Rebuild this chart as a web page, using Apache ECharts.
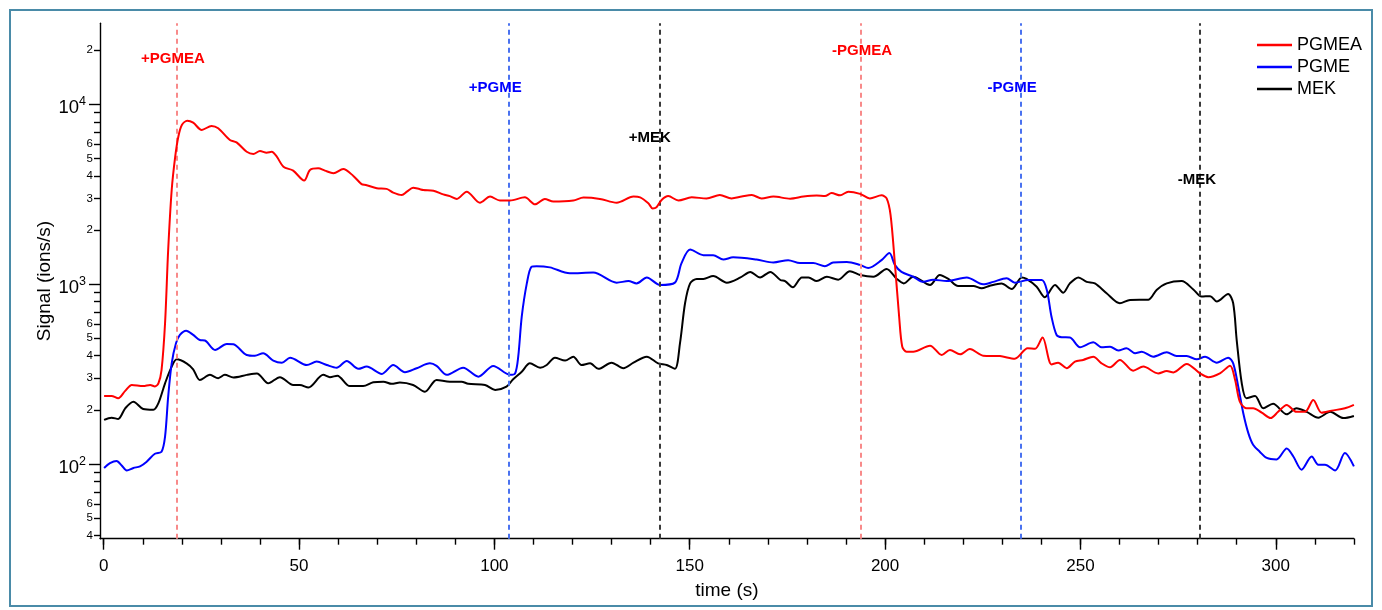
<!DOCTYPE html>
<html><head><meta charset="utf-8">
<script src="https://cdn.jsdelivr.net/npm/echarts@6/dist/echarts.min.js"></script>
<style>html,body{margin:0;padding:0;background:#fff}#c{width:1382px;height:610px}</style>
</head><body><div id="c"></div>
<script>
// ---- data (time s, signal ions/s) ----
const pgmea = [[0.1,239],[2.0,239],[3.7,232],[5.5,255],[7.2,275],[10.1,271],[11.9,275],[13.1,270],[14.0,281],[14.8,333],[15.7,606],[16.5,1550],[17.4,3340],[18.3,5120],[19.1,6610],[20.0,7680],[21.4,8110],[22.9,7910],[25.1,7210],[27.6,7590],[29.3,7370],[32.3,6340],[34.0,6150],[36.6,5450],[38.3,5300],[40.0,5500],[41.7,5390],[43.0,5450],[44.3,5120],[46.0,4500],[48.5,4280],[51.3,3770],[52.8,4320],[54.9,4410],[56.6,4280],[58.8,4140],[61.3,4370],[63.9,4000],[66.0,3600],[67.1,3560],[69.9,3420],[72.4,3390],[74.1,3230],[76.3,3130],[77.6,3270],[79.2,3440],[80.8,3380],[81.8,3340],[84.4,3310],[86.9,3160],[88.6,3090],[90.4,2980],[92.9,3270],[96.3,2840],[98.9,3070],[101.4,2920],[104.0,2920],[107.8,3040],[110.4,2780],[112.9,2980],[115.1,2880],[120.2,2920],[122.8,3030],[127.0,2980],[131.3,2840],[135.6,3070],[137.3,3040],[139.4,2820],[140.5,2640],[141.5,2680],[142.8,2940],[144.5,3090],[147.1,2920],[150.5,3040],[154.3,3000],[157.7,3130],[160.7,3000],[163.3,3070],[165.9,3130],[168.4,3000],[171.4,3070],[175.7,2990],[179.1,3070],[182.5,3110],[184.6,3090],[186.3,3210],[188.5,3120],[190.6,3270],[193.6,3180],[196.1,3000],[199.1,3120],[200.4,3000],[201.4,2430],[202.5,1310],[203.6,659],[204.4,449],[205.5,421],[207.2,421],[211.5,455],[214.5,404],[216.6,431],[219.2,407],[221.7,436],[225.1,400],[229.4,398],[233.2,385],[236.5,440],[238.4,437],[240.3,505],[242.6,358],[244.3,366],[246.5,341],[248.6,371],[250.7,379],[253.3,395],[255.4,363],[257.6,345],[260.1,379],[263.5,330],[266.1,348],[269.9,319],[272.1,329],[273.8,323],[277.2,360],[280.6,319],[282.7,304],[285.7,319],[288.3,352],[289.6,293],[290.8,222],[292.5,204],[294.2,204],[296.4,193],[298.7,180],[300.6,195],[302.8,213],[305.3,195],[307.5,195],[309.6,227],[311.7,193],[314.3,198],[317.7,204],[320,213]];
const pgme = [[0.1,95],[1.6,101],[3.3,104],[4.6,98],[5.9,92],[7.6,95],[9.3,97],[11.0,103],[13.1,114],[14.8,117],[15.7,142],[16.5,237],[17.4,363],[18.5,469],[19.5,522],[21.1,551],[22.9,522],[24.6,489],[25.9,486],[28.5,431],[31.5,465],[33.2,463],[36.6,404],[38.7,400],[40.8,413],[43.4,376],[45.6,366],[47.7,390],[52.0,355],[54.5,371],[57.1,355],[59.6,343],[62.2,374],[65.2,338],[67.3,348],[71.2,317],[74.1,355],[77.1,324],[80.1,341],[83.5,363],[85.2,351],[87.8,313],[92.0,343],[95.9,306],[99.7,351],[104.0,313],[105.3,319],[106.1,395],[107.0,659],[108.3,1010],[109.5,1250],[110.8,1260],[114.2,1240],[119.3,1150],[125.3,1160],[131.3,1020],[134.3,1040],[136.4,1010],[139.0,1090],[142.4,990],[146.2,1020],[147.9,1310],[150.1,1560],[153.5,1450],[156.0,1450],[158.6,1370],[161.1,1410],[167.1,1370],[171.4,1320],[175.2,1360],[178.2,1310],[181.6,1310],[184.6,1260],[186.7,1320],[190.2,1330],[193.6,1280],[195.7,1230],[199.1,1360],[201.1,1490],[202.5,1280],[204.2,1170],[207.2,1100],[209.8,1030],[212.3,1060],[215.8,1040],[220.9,1090],[225.1,998],[227.7,1030],[231.1,1080],[233.2,1020],[236.7,1055],[240.1,1055],[241.4,929],[242.6,659],[243.9,522],[245.2,507],[247.3,505],[249.9,446],[253.3,475],[255.4,446],[257.6,449],[259.7,427],[261.8,440],[264.0,413],[265.7,421],[268.6,395],[272.1,418],[274.6,398],[277.2,398],[279.8,382],[281.9,395],[284.9,366],[287.8,390],[289.1,363],[290.4,269],[291.7,191],[293.0,148],[294.2,128],[295.9,117],[297.7,108],[300.2,106],[302.8,122],[304.5,110],[306.6,93],[309.2,110],[310.9,99],[312.6,99],[315.2,92],[317.7,115],[320,97]];
const mek = [[0.1,176],[2.0,181],[3.7,178],[5.5,204],[7.6,222],[10.1,202],[12.7,200],[14.0,218],[15.7,281],[17.4,348],[18.7,382],[21.2,363],[22.9,336],[24.6,293],[27.2,313],[29.3,300],[31.0,313],[33.2,303],[36.6,313],[39.2,319],[42.1,281],[45.1,304],[48.5,275],[50.2,275],[52.4,266],[56.2,313],[57.9,304],[59.8,310],[63.0,271],[66.4,271],[69.0,285],[71.6,287],[73.7,279],[75.8,284],[79.2,275],[82.2,252],[85.2,293],[88.6,287],[91.6,287],[93.3,279],[97.6,275],[100.2,258],[103.1,269],[104.8,296],[107.0,326],[109.1,363],[111.7,343],[113.4,355],[115.5,390],[118.1,376],[120.2,395],[122.3,355],[124.5,363],[126.6,338],[130.0,366],[133.0,341],[135.6,366],[139.0,395],[141.9,363],[144.1,355],[146.2,338],[147.5,469],[148.8,783],[150.1,1010],[151.8,1070],[153.5,1070],[156.0,1110],[159.5,1020],[163.0,1090],[165.5,1170],[168.0,1090],[170.6,1170],[173.2,1055],[174.4,1040],[176.4,961],[178.7,1090],[180.4,1090],[182.5,1040],[185.1,1100],[188.0,1060],[191.0,1180],[193.6,1125],[197.0,1100],[200.4,1215],[203.0,1070],[204.8,1010],[207.2,1100],[211.5,990],[214.0,1125],[216.2,1070],[218.7,977],[222.6,977],[224.7,948],[226.8,980],[229.8,1010],[232.4,940],[235.0,1090],[236.2,1070],[238.8,968],[240.9,846],[243.5,990],[245.6,897],[247.3,1010],[249.5,1090],[251.6,1030],[253.7,1010],[256.7,890],[260.1,783],[262.7,817],[267.4,820],[269.5,929],[272.1,1010],[275.9,1040],[278.9,935],[281.0,853],[283.2,858],[284.9,800],[287.8,882],[289.1,783],[290.0,489],[291.3,281],[292.5,232],[294.7,239],[296.8,204],[299.3,216],[302.8,189],[305.3,204],[307.9,195],[310.9,181],[313.9,195],[317.3,180],[320,185]];

const seriesNames = ['PGMEA', 'PGME', 'MEK'];
const seriesColors = ['#ff0000', '#0000ff', '#000000'];
const eventLineColors = ['#f88a8a', '#4a72f0', '#3a3a3a'];

// event markers: label text, time of dashed line, label anchor (time, signal), series index
const eventNames = ['+PGMEA', '+PGME', '+MEK', '-PGMEA', '-PGME', '-MEK'];
const eventTimes = [18.7, 103.7, 142.3, 193.8, 234.7, 280.5];
const eventLabelTimes = [17.7, 100.2, 139.8, 194.1, 232.5, 279.8];
const eventLabelValues = [18000, 12400, 6500, 19900, 12400, 3820];
const eventSeries = [0, 1, 2, 0, 1, 2];

// axes
const xMin = -0.95, xMax = 320;
const yMin = 38.4, yMax = 28250;
const xMajorTicks = [0, 50, 100, 150, 200, 250, 300];
const xMinorTicks = [0,10,20,30,40,50,60,70,80,90,100,110,120,130,140,150,160,170,180,190,200,210,220,230,240,250,260,270,280,290,300,310,320];
const yMajorTicks = [100, 1000, 10000];
const yMinorTicks = [40,50,60,70,80,90,200,300,400,500,600,700,800,900,2000,3000,4000,5000,6000,7000,8000,9000,20000];
const yMinorLabeled = [40,50,60,200,300,400,500,600,2000,3000,4000,5000,6000,20000];

const FONT = 'Liberation Sans, Arial, Helvetica, sans-serif';
const dataSets = [pgmea, pgme, mek];

const chart = echarts.init(document.getElementById('c'), null, {renderer: 'canvas'});

const axisLineStyle = {color: '#000', width: 1.4};

const series = seriesNames.map((name, i) => {
  const evIdx = eventSeries.map((s, k) => s === i ? k : -1).filter(k => k >= 0);
  return {
    name: name,
    type: 'line',
    xAxisIndex: 0,
    yAxisIndex: 0,
    data: dataSets[i],
    smooth: 0.3,
    symbol: 'none',
    showSymbol: false,
    animation: false,
    lineStyle: {color: seriesColors[i], width: 2},
    itemStyle: {color: seriesColors[i]},
    z: 3 - i + 2,
    markLine: {
      silent: true,
      animation: false,
      symbol: ['none', 'none'],
      label: {show: false},
      lineStyle: {color: eventLineColors[i], type: [5, 4], width: 2},
      data: evIdx.map(k => ({xAxis: eventTimes[k]}))
    },
    markPoint: {
      silent: true,
      animation: false,
      symbol: 'rect',
      symbolSize: 1,
      itemStyle: {color: 'rgba(0,0,0,0)'},
      label: {
        show: true, position: 'inside', formatter: p => p.name,
        color: seriesColors[i], fontWeight: 'bold', fontSize: 15, fontFamily: FONT
      },
      data: evIdx.map(k => ({name: eventNames[k], coord: [eventLabelTimes[k], eventLabelValues[k]]}))
    }
  };
});

const option = {
  backgroundColor: '#fff',
  animation: false,
  textStyle: {fontFamily: FONT},
  graphic: [{
    type: 'rect', silent: true, z: -10,
    shape: {x: 10, y: 10, width: 1362, height: 596},
    style: {fill: 'none', stroke: '#4a8ba8', lineWidth: 2}
  }],
  grid: {left: 100, right: 28.1, top: 23.3, bottom: 71.3, containLabel: false, outerBoundsMode: 'none'},
  legend: {
    data: seriesNames,
    orient: 'vertical',
    left: 1252, top: 30,
    icon: 'rect',
    itemWidth: 35, itemHeight: 2.5, itemGap: 2,
    textStyle: {fontSize: 18, fontFamily: FONT, color: '#000', lineHeight: 20},
    selectedMode: false
  },
  xAxis: [{
    type: 'value', min: xMin, max: xMax, position: 'bottom',
    name: 'time (s)', nameLocation: 'middle', nameGap: 43, nameMoveOverlap: false,
    nameTextStyle: {fontSize: 19, fontFamily: FONT, color: '#000'},
    axisLine: {show: true, onZero: false, lineStyle: axisLineStyle},
    axisTick: {show: true, customValues: xMajorTicks, length: 11, inside: false, lineStyle: axisLineStyle},
    axisLabel: {show: true, customValues: xMajorTicks, fontSize: 17, margin: 19, color: '#000', fontFamily: FONT},
    splitLine: {show: false}
  }, {
    type: 'value', min: xMin, max: xMax, position: 'bottom', offset: 0,
    axisLine: {show: false, onZero: false},
    axisTick: {show: true, customValues: xMinorTicks, length: 6, lineStyle: axisLineStyle},
    axisLabel: {show: false},
    splitLine: {show: false}
  }],
  yAxis: [{
    type: 'log', logBase: 10, min: yMin, max: yMax, position: 'left',
    name: 'Signal (ions/s)', nameLocation: 'middle', nameGap: 46, nameRotate: 90, nameMoveOverlap: false,
    nameTextStyle: {fontSize: 19, fontFamily: FONT, color: '#000'},
    axisLine: {show: true, onZero: false, lineStyle: axisLineStyle},
    axisTick: {show: true, customValues: yMajorTicks, length: 11, lineStyle: axisLineStyle},
    axisLabel: {
      show: true, customValues: yMajorTicks, margin: 14,
      formatter: v => '{b|10}{s|' + Math.round(Math.log10(v)) + '}',
      rich: {
        b: {fontSize: 18.5, lineHeight: 18, padding: [8, 0, 0, 0], color: '#000', fontFamily: FONT},
        s: {fontSize: 12.5, lineHeight: 13, verticalAlign: 'top', color: '#000', fontFamily: FONT}
      }
    },
    splitLine: {show: false}
  }, {
    type: 'log', logBase: 10, min: yMin, max: yMax, position: 'left', offset: 0,
    axisLine: {show: false, onZero: false},
    axisTick: {show: true, customValues: yMinorTicks, length: 6, lineStyle: axisLineStyle},
    axisLabel: {
      show: true, customValues: yMinorLabeled, margin: 7, fontSize: 11.5, color: '#000', fontFamily: FONT,
      formatter: v => String(Math.round(v / Math.pow(10, Math.floor(Math.log10(v) + 1e-9))))
    },
    splitLine: {show: false}
  }],
  series: series
};

chart.setOption(option);
</script>
</body></html>
